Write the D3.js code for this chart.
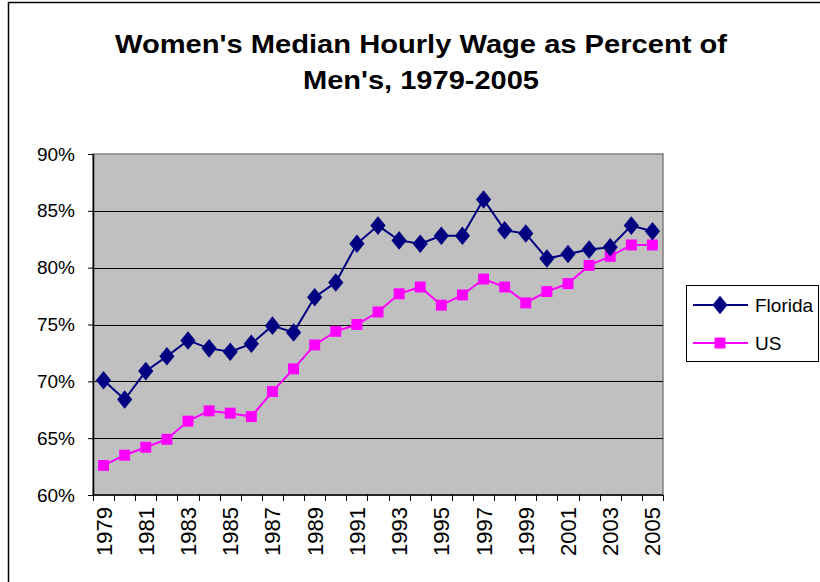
<!DOCTYPE html>
<html>
<head>
<meta charset="utf-8">
<script src="https://cdn.jsdelivr.net/npm/d3@7"></script>
<style>
  body { margin: 0; background: #fff; }
  svg { display: block; font-family: "Liberation Sans", Arial, sans-serif; }
</style>
</head>
<body>
<div id="chart"></div>
<script>
// Data
const years = d3.range(1979, 2006).map(String);
const florida = [70.1, 68.4, 70.9, 72.2, 73.6, 72.9, 72.6, 73.3, 74.9, 74.3,
                 77.4, 78.7, 82.1, 83.7, 82.4, 82.1, 82.8, 82.8, 86.0, 83.3,
                 83.0, 80.8, 81.2, 81.6, 81.8, 83.7, 83.2];
const us = [62.6, 63.5, 64.2, 64.9, 66.5, 67.4, 67.2, 66.9, 69.1, 71.1,
            73.2, 74.4, 75.0, 76.1, 77.7, 78.3, 76.7, 77.6, 79.0, 78.3,
            76.9, 77.9, 78.6, 80.2, 81.0, 82.0, 82.0];
const yTicks = [60, 65, 70, 75, 80, 85, 90];
const xLabelYears = years.filter((d, i) => i % 2 === 0);
const titleLines = ["Women's Median Hourly Wage as Percent of", "Men's, 1979-2005"];

const width = 820, height = 582;
const plot = { left: 93, right: 663, top: 154, bottom: 495 };

const svg = d3.select('#chart').append('svg')
    .attr('width', width)
    .attr('height', height);

// Outer chart frame (only left/top edges show in the picture)
svg.append('rect')
    .attr('x', 8.5).attr('y', 2.5)
    .attr('width', 830).attr('height', 600)
    .attr('fill', '#fff')
    .attr('stroke', '#000')
    .attr('stroke-width', 1.5);

// Title
const title = svg.append('g');
title.selectAll('text')
    .data(titleLines)
    .enter()
    .append('text')
    .attr('x', 421)
    .attr('y', (d, i) => 53 + i * 36)
    .attr('text-anchor', 'middle')
    .style('font-size', '25px')
    .style('font-weight', 'bold')
    .attr('textLength', (d, i) => i === 0 ? 612 : 236)
    .attr('lengthAdjust', 'spacingAndGlyphs')
    .text(d => d);

const x = d3.scaleBand()
    .domain(years)
    .range([plot.left, plot.right])
    .padding(0);

const y = d3.scaleLinear()
    .domain([60, 90])
    .range([plot.bottom, plot.top]);

// Plot area background
svg.append('rect')
    .attr('x', plot.left).attr('y', plot.top)
    .attr('width', plot.right - plot.left)
    .attr('height', plot.bottom - plot.top)
    .attr('fill', '#c0c0c0')
    .attr('stroke', '#808080')
    .attr('stroke-width', 1.5);

// Gridlines
svg.append('g')
    .selectAll('line')
    .data(yTicks.filter(d => d > 60 && d < 90))
    .enter()
    .append('line')
    .attr('x1', plot.left).attr('x2', plot.right)
    .attr('y1', d => Math.round(y(d)) + 0.5)
    .attr('y2', d => Math.round(y(d)) + 0.5)
    .attr('stroke', '#000')
    .attr('stroke-width', 1);

// Y axis
const yAxis = svg.append('g')
    .attr('transform', `translate(${plot.left},0)`)
    .call(d3.axisLeft(y).tickValues(yTicks).tickSize(5).tickSizeOuter(0)
        .tickFormat(d => d + '%'));
yAxis.select('.domain').attr('stroke', '#000').attr('stroke-width', 1.5);
yAxis.selectAll('.tick line').attr('stroke', '#000');
yAxis.selectAll('.tick text')
    .attr('x', -18)
    .style('font-size', '19px')
    .style('font-family', '"Liberation Sans", Arial, sans-serif')
    .attr('fill', '#000');

// X axis: ticks at category boundaries, labels every other year
const xAxisG = svg.append('g')
    .attr('transform', `translate(0,${plot.bottom})`);
xAxisG.append('line')
    .attr('x1', plot.left).attr('x2', plot.right)
    .attr('y1', 0).attr('y2', 0)
    .attr('stroke', '#000').attr('stroke-width', 1.5);
const boundaries = years.map(d => x(d)).concat([plot.right]);
xAxisG.selectAll('.xtick')
    .data(boundaries)
    .enter()
    .append('line')
    .attr('class', 'xtick')
    .attr('x1', d => Math.round(d) + 0.5).attr('x2', d => Math.round(d) + 0.5)
    .attr('y1', 0).attr('y2', 6)
    .attr('stroke', '#000');
xAxisG.selectAll('.xlabel')
    .data(xLabelYears)
    .enter()
    .append('text')
    .attr('class', 'xlabel')
    .attr('transform', d => `translate(${x(d) + x.bandwidth() / 2 + 8},12) rotate(-90)`)
    .attr('text-anchor', 'end')
    .style('font-size', '22px')
    .text(d => d);

// Series
const series = [
    { name: 'Florida', values: florida, color: '#000080', symbol: d3.symbolDiamond, size: 110 },
    { name: 'US', values: us, color: '#ff00ff', symbol: d3.symbolSquare, size: 120 }
];

const line = d3.line()
    .x((d, i) => x(years[i]) + x.bandwidth() / 2)
    .y(d => y(d));

series.slice().reverse().forEach(s => {
    const g = svg.append('g');
    g.append('path')
        .datum(s.values)
        .attr('d', line)
        .attr('fill', 'none')
        .attr('stroke', s.color)
        .attr('stroke-width', 2);
    g.selectAll('path.marker')
        .data(s.values)
        .enter()
        .append('path')
        .attr('class', 'marker')
        .attr('d', d3.symbol().type(s.symbol).size(s.size))
        .attr('transform', (d, i) => {
            const rot = s.symbol === d3.symbolDiamond ? ' scale(1.35,0.95)' : '';
            return `translate(${x(years[i]) + x.bandwidth() / 2},${y(d)})${rot}`;
        })
        .attr('fill', s.color);
});

// Legend
const legend = svg.append('g').attr('transform', 'translate(686,285)');
legend.append('rect')
    .attr('x', 0.5).attr('y', 0.5)
    .attr('width', 132).attr('height', 76)
    .attr('fill', '#fff')
    .attr('stroke', '#000')
    .attr('stroke-width', 1);
series.forEach((s, i) => {
    const row = legend.append('g')
        .attr('transform', `translate(0,${20 + i * 38})`);
    row.append('line')
        .attr('x1', 7).attr('x2', 62)
        .attr('stroke', s.color)
        .attr('stroke-width', 2);
    row.append('path')
        .attr('d', d3.symbol().type(s.symbol).size(s.size))
        .attr('transform', 'translate(34,0)' + (s.symbol === d3.symbolDiamond ? ' scale(1.35,0.95)' : ''))
        .attr('fill', s.color);
    row.append('text')
        .attr('x', 69)
        .attr('y', 7)
        .style('font-size', '19px')
        .text(s.name);
});
</script>
</body>
</html>
